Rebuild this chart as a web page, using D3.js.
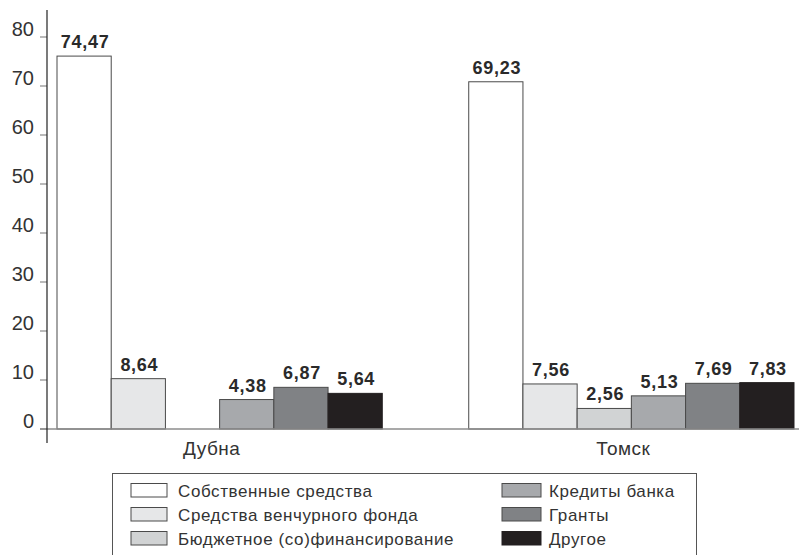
<!DOCTYPE html>
<html>
<head>
<meta charset="utf-8">
<script src="https://cdn.jsdelivr.net/npm/d3@7"></script>
<style>
  body { margin: 0; background: #fff; }
  svg { display: block; font-family: "Liberation Sans", Arial, sans-serif; }
</style>
</head>
<body>
<svg id="chart" width="799" height="555"></svg>
<script>
// Funding structure (%) by source, per city
const cities = ["Дубна", "Томск"];
const sources = [
  "Собственные средства",
  "Средства венчурного фонда",
  "Бюджетное (со)финансирование",
  "Кредиты банка",
  "Гранты",
  "Другое"
];
const dubnaValues = [74.47, 8.64, null, 4.38, 6.87, 5.64];
const tomskValues = [69.23, 7.56, 2.56, 5.13, 7.69, 7.83];
const yTicks = [0, 10, 20, 30, 40, 50, 60, 70, 80];
const fills = ["#ffffff", "#e6e7e8", "#d1d3d4", "#a7a9ac", "#808285", "#231f20"];

const valuesByCity = { "Дубна": dubnaValues, "Томск": tomskValues };

const svg = d3.select("#chart");
const axisX = 47;
const tickShift = 8;           // tick marks / base line sit slightly below the label centres

const x0 = d3.scaleBand().domain(cities).range([57, 794]).paddingInner(0.21);
const x1 = d3.scaleBand().domain(sources).range([0, x0.bandwidth()]);
const y = d3.scaleLinear().domain([0, 80]).range([421, 29]);
const baseY = y(0) + tickShift;

const ru = d3.formatLocale({ decimal: ",", thousands: " ", grouping: [3], currency: ["", ""] });
const fmt = ru.format(".2f");

// Bars
const groups = svg.append("g").selectAll("g")
  .data(cities)
  .join("g")
  .attr("transform", c => `translate(${x0(c)},0)`);

groups.selectAll("rect")
  .data(c => sources.map((s, i) => ({ s, i, v: valuesByCity[c][i] })).filter(d => d.v != null))
  .join("rect")
  .attr("x", d => x1(d.s))
  .attr("y", d => y(d.v))
  .attr("width", x1.bandwidth())
  .attr("height", d => baseY - y(d.v))
  .attr("fill", d => fills[d.i])
  .attr("stroke", d => d.i === 5 ? "#231f20" : "#4a4a4a")
  .attr("stroke-width", 1);

// Value labels
groups.selectAll("text")
  .data(c => sources.map((s, i) => ({ s, i, v: valuesByCity[c][i] })).filter(d => d.v != null))
  .join("text")
  .attr("x", d => x1(d.s) + x1.bandwidth() / 2 + 1)
  .attr("y", d => y(d.v) - 8)
  .attr("text-anchor", "middle")
  .attr("font-size", 18)
  .attr("font-weight", "bold")
  .attr("letter-spacing", 0.7)
  .attr("fill", "#2a2a2a")
  .text(d => fmt(d.v));

// Base line
svg.append("line")
  .attr("x1", 40).attr("x2", 799)
  .attr("y1", baseY).attr("y2", baseY)
  .attr("stroke", "#8c8c8c").attr("stroke-width", 1.5);

// Y axis labels
const yAxis = svg.append("g")
  .attr("transform", `translate(${axisX},0)`)
  .call(d3.axisLeft(y).tickValues(yTicks).tickSize(0).tickPadding(13).tickFormat(d3.format("d")));
yAxis.select(".domain").remove();
yAxis.selectAll("text")
  .attr("font-size", 20)
  .attr("font-family", "\"Liberation Sans\", Arial, sans-serif")
  .attr("fill", "#333");

// Tick marks
svg.append("g").selectAll("line")
  .data(yTicks)
  .join("line")
  .attr("x1", axisX - 7).attr("x2", axisX)
  .attr("y1", d => y(d) + tickShift).attr("y2", d => y(d) + tickShift)
  .attr("stroke", "#8c8c8c").attr("stroke-width", 1.2);

// Vertical axis line
svg.append("line")
  .attr("x1", axisX).attr("x2", axisX)
  .attr("y1", 10).attr("y2", 443)
  .attr("stroke", "#222").attr("stroke-width", 1.2);

// Category labels
svg.append("g").selectAll("text")
  .data(cities)
  .join("text")
  .attr("x", c => x0(c) + x0.bandwidth() / 2 - 8)
  .attr("y", 454.5)
  .attr("text-anchor", "middle")
  .attr("font-size", 19)
  .attr("letter-spacing", 0.5)
  .attr("fill", "#333")
  .text(c => c);

// Legend
const legend = svg.append("g");
legend.append("rect")
  .attr("x", 112.5).attr("y", 473.5)
  .attr("width", 584).attr("height", 100)
  .attr("fill", "#fff").attr("stroke", "#555").attr("stroke-width", 1);

const legendCols = [131, 502];
const legendRows = [483.5, 507.5, 531.5];
const items = legend.selectAll("g")
  .data(sources.map((s, i) => ({ s, i })))
  .join("g")
  .attr("transform", d => `translate(${legendCols[Math.floor(d.i / 3)]},${legendRows[d.i % 3]})`);

items.append("rect")
  .attr("width", d => d.i < 3 ? 36 : 39).attr("height", 13.5)
  .attr("fill", d => fills[d.i])
  .attr("stroke", d => d.i === 5 ? "#231f20" : "#4a4a4a")
  .attr("stroke-width", 1);

items.append("text")
  .attr("x", d => d.i < 3 ? 47 : 47)
  .attr("y", 13.5)
  .attr("font-size", 17)
  .attr("letter-spacing", 0.6)
  .attr("fill", "#333")
  .text(d => d.s);
</script>
</body>
</html>
